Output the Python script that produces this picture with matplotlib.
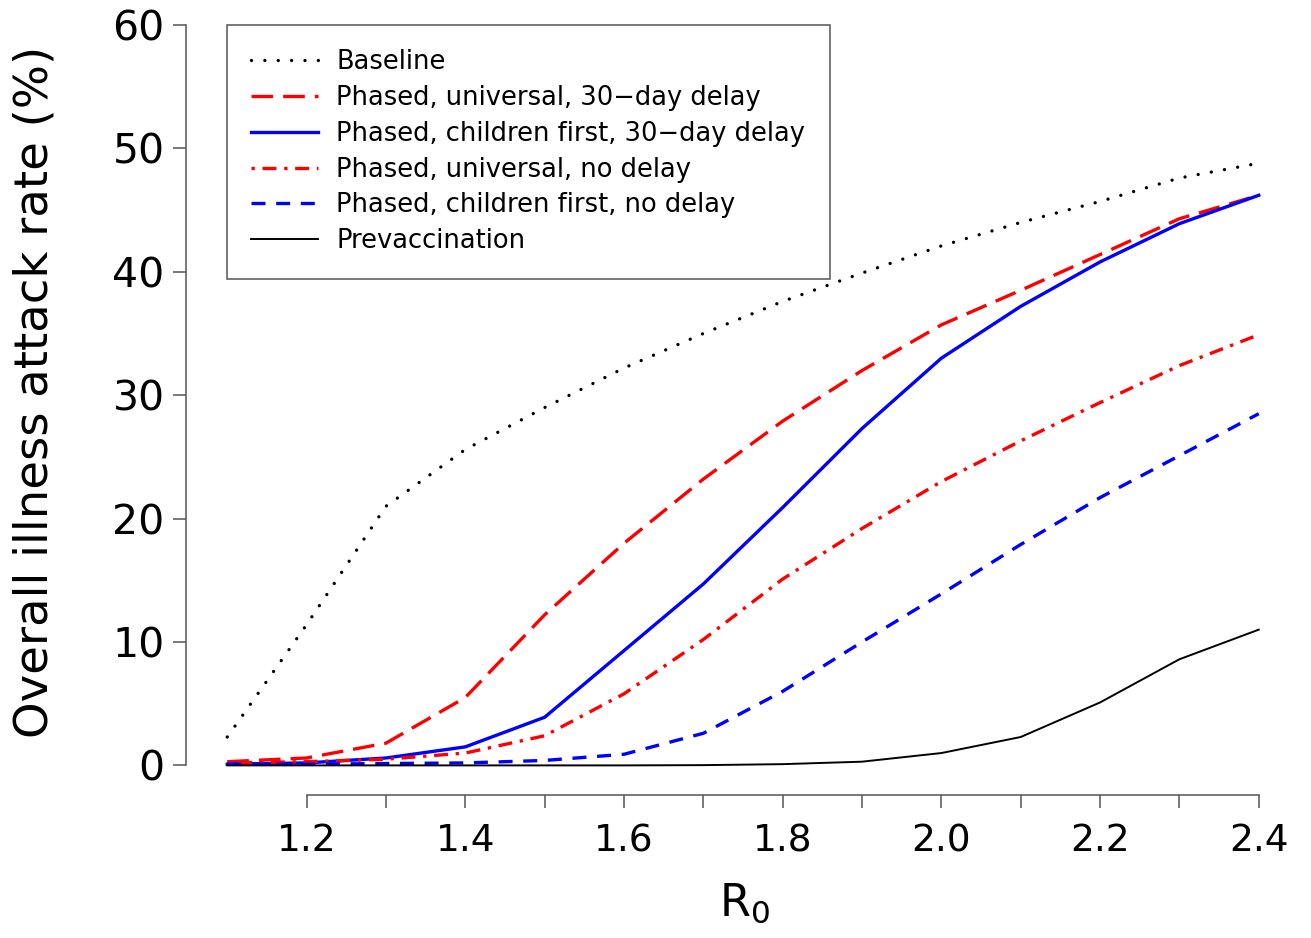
import numpy as np
import matplotlib
matplotlib.use("Agg")
import matplotlib.pyplot as plt

# R0 values on the x axis
r0 = [1.1, 1.2, 1.3, 1.4, 1.5, 1.6, 1.7, 1.8, 1.9, 2.0, 2.1, 2.2, 2.3, 2.4]

# overall illness attack rate (%)
baseline = [2.3, 11.4, 21.0, 25.6, 29.0, 32.2, 35.0, 37.6, 39.9, 42.1, 44.0, 45.7, 47.6, 48.8]
univ_delay = [0.3, 0.6, 1.8, 5.5, 12.2, 18.0, 23.2, 27.9, 32.0, 35.7, 38.5, 41.4, 44.3, 46.2]
child_delay = [0.1, 0.2, 0.6, 1.5, 3.9, 9.3, 14.7, 20.9, 27.3, 33.0, 37.2, 40.8, 43.9, 46.2]
univ_nodelay = [0.2, 0.3, 0.5, 1.0, 2.4, 5.8, 10.2, 15.1, 19.2, 23.0, 26.3, 29.4, 32.4, 34.9]
child_nodelay = [0.1, 0.1, 0.15, 0.2, 0.4, 0.9, 2.6, 6.0, 10.0, 13.9, 17.9, 21.7, 25.1, 28.5]
prevacc = [0.0, 0.0, 0.0, 0.0, 0.0, 0.0, 0.02, 0.1, 0.3, 1.0, 2.3, 5.1, 8.6, 11.0]

labels = ["Baseline",
          "Phased, universal, 30\u2212day delay",
          "Phased, children first, 30\u2212day delay",
          "Phased, universal, no delay",
          "Phased, children first, no delay",
          "Prevaccination"]

fig = plt.figure(figsize=(13.11, 9.38), dpi=100)
ax = fig.add_axes([186 / 1311, 143 / 938, 1114 / 1311, 799.6 / 938])

lw = 2.4
ax.plot(r0, baseline, color="black", lw=lw, linestyle=(0, (0.01, 4.0)),
        dash_capstyle="round", label=labels[0])
ax.plot(r0, univ_delay, color="#ff0000", lw=lw, linestyle=(0, (6.5, 3)), label=labels[1])
ax.plot(r0, child_delay, color="#0000ff", lw=lw, label=labels[2])
ax.plot(r0, univ_nodelay, color="#ff0000", lw=lw, linestyle=(0, (1, 2.3, 4.2, 2.3)), label=labels[3])
ax.plot(r0, child_nodelay, color="#0000ff", lw=lw, linestyle=(0, (4.2, 3.2)), label=labels[4])
ax.plot(r0, prevacc, color="black", lw=1.4, label=labels[5])

ax.set_xlim(1.048, 2.452)
ax.set_ylim(-2.4, 62.4)

for s in ["top", "right"]:
    ax.spines[s].set_visible(False)
ax.spines["left"].set_bounds(0, 60)
ax.spines["bottom"].set_bounds(1.2, 2.4)
for s in ["left", "bottom"]:
    ax.spines[s].set_color("#555555")
    ax.spines[s].set_linewidth(1.1)

ax.set_yticks(np.arange(0, 61, 10))
ax.set_xticks([1.2, 1.4, 1.6, 1.8, 2.0, 2.2, 2.4])
ax.set_xticklabels(["1.2", "1.4", "1.6", "1.8", "2.0", "2.2", "2.4"])
ax.set_xticks([1.3, 1.5, 1.7, 1.9, 2.1, 2.3], minor=True)
ax.tick_params(axis="y", length=9.4, width=1.1, color="#555555", labelsize=29.5, pad=6)
ax.tick_params(axis="x", which="both", length=9.4, width=1.1, color="#555555",
               labelsize=27, pad=11)

fig.text(35 / 1311, 1 - 392 / 938, "Overall illness attack rate (%)", rotation=90,
         ha="center", va="center", fontsize=33.5)
fig.text(745 / 1311, 1 - 903 / 938, r"R$_0$", ha="center", va="center", fontsize=32)

leg = ax.legend(loc="upper left", bbox_to_anchor=(227 / 1311, 1 - 25 / 938),
                bbox_transform=fig.transFigure, borderaxespad=0, fontsize=18.5,
                fancybox=False, edgecolor="#555555", framealpha=1,
                handlelength=2.6, handletextpad=0.7, labelspacing=0.38, borderpad=0.95)
leg.get_frame().set_linewidth(1.1)

fig.savefig("out.png", dpi=100)
